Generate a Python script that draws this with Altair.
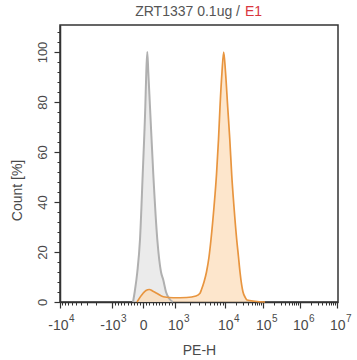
import altair as alt
import pandas as pd
import numpy as np

# PE-H axis is a logicle display scale; x values below are in its display units
# (0 = -10^4 ... 277 = 10^7).
major_pos = [0, 52, 83, 115, 165, 203, 240, 277]
major_base = ["-10", "-10", "0", "10", "10", "10", "10", "10"]
major_exp = ["4", "3", "", "3", "4", "5", "6", "7"]

# isotype / unstained control (grey)
gray_x = [73, 74.7, 77.3, 80, 82.7, 85.3, 86.3, 87.3, 88.3, 90, 93.3, 97.3, 101, 103.3, 106, 110, 113]
gray_y = [0, 4, 12, 25, 51, 78, 92, 100, 92, 78, 51, 25, 12, 8.8, 4, 1, 0]

# ZRT1337 stained sample (orange)
orange_x = [77, 83.3, 86, 89.3, 93, 96.7, 103.3, 113.3, 126.7, 136, 140, 141.5, 144, 146.5, 149,
            151, 154, 156.5, 158.5, 160, 162, 163.7, 165.5, 167.7, 169.8, 171.7, 174, 176.7,
            178.5, 180, 183, 185, 187, 195, 205]
orange_y = [0, 3.6, 4.6, 5, 4.3, 3.5, 2.1, 1.7, 1.8, 2.4, 3.5, 5, 8, 12, 18,
            25, 38, 51, 65, 78, 92, 100, 92, 78, 65, 51, 38, 25,
            18, 12, 4, 2, 0.8, 0.3, 0]

y_major = [0, 20, 40, 60, 80, 100]
title_parts = ["ZRT1337 0.1ug /", "E1"]

# minor tick positions on the logicle axis
minor_x = []
for m in range(2, 10):
    minor_x.append(major_pos[1] - (major_pos[1] - major_pos[0]) * np.log10(m))
for m in range(1, 10):
    minor_x.append(major_pos[2] - (major_pos[2] - major_pos[1]) * m / 10)
    minor_x.append(major_pos[2] + (major_pos[3] - major_pos[2]) * m / 10)
for i in range(3, 7):
    for m in range(2, 10):
        minor_x.append(major_pos[i] + (major_pos[i + 1] - major_pos[i]) * np.log10(m))
minor_x = [round(float(v), 2) for v in minor_x]
minor_y = [v for v in range(0, 110, 4) if v % 20 != 0]

dfg = pd.DataFrame({"x": gray_x, "y": gray_y})
dfo = pd.DataFrame({"x": orange_x, "y": orange_y})

FONT = "Liberation Sans"
TXT = "#4a4a4a"
xs = alt.Scale(domain=[0, 278], nice=False, zero=False)
ys = alt.Scale(domain=[0, 110.8], nice=False, zero=False)

pos_arr = "[" + ",".join(str(p) for p in major_pos) + "]"
base_arr = "[" + ",".join("'" + s + "'" for s in major_base) + "]"
exp_arr = "[" + ",".join("'" + s + "'" for s in major_exp) + "]"
exp_pos = [p for p, e in zip(major_pos, major_exp) if e]

x_major_axis = alt.Axis(
    orient="bottom", values=major_pos, labelExpr=f"{base_arr}[indexof({pos_arr}, datum.value)]",
    grid=False, tickSize=6, tickColor="#333", tickWidth=1.2, domainColor="#333", domainWidth=1.5,
    labelFont=FONT, labelFontSize=14, labelColor=TXT, labelPadding=10, labelFlush=False,
    labelOverlap=False, labelBaseline="top", labelAlign="right",
    labelOffset={"condition": {"test": "datum.value == 83", "value": 4}, "value": 8},
    title="PE-H", titleFont=FONT, titleFontSize=14, titleColor=TXT, titleFontWeight="normal",
    titleBaseline="alphabetic", titleY=52,
)
x_exp_axis = alt.Axis(
    orient="bottom", values=exp_pos, labelExpr=f"{exp_arr}[indexof({pos_arr}, datum.value)]",
    grid=False, ticks=False, tickSize=0, domain=False,
    labelFont=FONT, labelFontSize=10, labelColor=TXT, labelPadding=11, labelFlush=False,
    labelOverlap=False, labelBaseline="top", labelAlign="left", labelOffset=8.5, title=None,
)
y_major_axis = alt.Axis(
    orient="left", values=y_major, grid=False, tickSize=6, tickColor="#333", tickWidth=1.2,
    domainColor="#333", domainWidth=1.5,
    labelFont=FONT, labelFontSize=13, labelColor=TXT, labelPadding=8, labelAngle=270,
    labelAlign="center", labelBaseline="alphabetic", labelFlush=False,
    title="Count [%]", titleFont=FONT, titleFontSize=14, titleColor=TXT, titleFontWeight="normal",
    titleAngle=270, titleAlign="center", titleBaseline="alphabetic", titleX=-39, titleY=165,
)
x_minor_axis = alt.Axis(orient="bottom", values=minor_x, labels=False, domain=False, grid=False,
                        tickSize=3, tickColor="#333", tickWidth=1, title=None)
y_minor_axis = alt.Axis(orient="left", values=minor_y, labels=False, domain=False, grid=False,
                        tickSize=3, tickColor="#333", tickWidth=1, title=None)

gray_area = alt.Chart(dfg).mark_area(color="#e6e6e6", fillOpacity=0.8, interpolate="monotone").encode(
    x=alt.X("x:Q", scale=xs, axis=x_major_axis),
    y=alt.Y("y:Q", scale=ys, axis=y_major_axis, stack=None),
)
orange_area = alt.Chart(dfo).mark_area(color="#fcdcb6", fillOpacity=0.7, interpolate="monotone").encode(
    x=alt.X("x:Q", scale=xs, axis=x_exp_axis), y=alt.Y("y:Q", scale=ys, axis=None, stack=None),
)
gray_line = alt.Chart(dfg).mark_line(color="#b0b0b0", strokeWidth=2, interpolate="monotone").encode(
    x=alt.X("x:Q", scale=xs, axis=None), y=alt.Y("y:Q", scale=ys, axis=None),
)
orange_line = alt.Chart(dfo).mark_line(color="#e8953f", strokeWidth=1.7, interpolate="monotone").encode(
    x=alt.X("x:Q", scale=xs, axis=None), y=alt.Y("y:Q", scale=ys, axis=None),
)
minor = alt.Chart(dfg).mark_point(opacity=0).encode(
    x=alt.X("x:Q", scale=xs, axis=x_minor_axis), y=alt.Y("y:Q", scale=ys, axis=y_minor_axis),
)

t1 = alt.Chart(pd.DataFrame({"t": [title_parts[0]]})).mark_text(
    font=FONT, fontSize=14, color="#555", align="right", baseline="alphabetic"
).encode(text="t:N", x=alt.value(180), y=alt.value(-9))
t2 = alt.Chart(pd.DataFrame({"t": [title_parts[1]]})).mark_text(
    font=FONT, fontSize=14, color="#d9363e", align="left", baseline="alphabetic"
).encode(text="t:N", x=alt.value(185), y=alt.value(-9))

chart = alt.layer(gray_area, orange_area, gray_line, orange_line, minor, t1, t2).resolve_axis(
    x="independent", y="independent"
).properties(
    width=278, height=277,
    padding={"left": 60, "top": 25, "right": 19, "bottom": 58},
    autosize=alt.AutoSizeParams(type="none"),
    background="white",
).configure_view(stroke="#333", strokeWidth=1.5)

chart.save("out.html", embed_options={"renderer": "svg", "actions": False})
